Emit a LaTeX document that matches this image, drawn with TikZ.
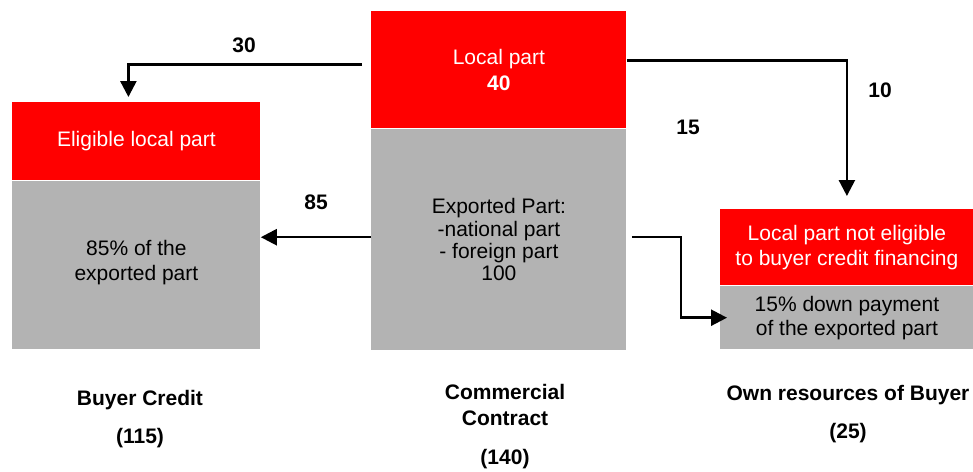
\documentclass[tikz,border=0pt]{standalone}
\usepackage{fontspec}
\setmainfont{Liberation Sans}
\usetikzlibrary{arrows.meta, positioning}
\definecolor{boxred}{RGB}{255,0,0}
\definecolor{boxgray}{RGB}{179,179,179}

\begin{document}
\begin{tikzpicture}[
    x=0.5pt, y=-0.5pt,
    font=\fontsize{10.5pt}{12.5pt}\selectfont,
    localpart/.style={rectangle, inner sep=0pt, align=center, text=white,
                      fill=boxred, anchor=north west},
    exportpart/.style={rectangle, inner sep=0pt, align=center, text=black,
                       fill=boxgray},
    amount/.style={font=\fontsize{10.5pt}{12.5pt}\selectfont\bfseries},
    caption/.style={align=center, font=\fontsize{10.5pt}{13pt}\selectfont\bfseries},
    arrow/.style={line width=1.25pt, -{Triangle[length=8pt, width=8pt]}}
]
\useasboundingbox (0,0) rectangle (973,471);

% buyer credit
\node (btop) [localpart, minimum width=124pt, minimum height=39pt] at (12,102) {Eligible local part};
\node (bbot) [exportpart, minimum width=124pt, minimum height=84pt, below=0pt of btop] {85\% of the\\exported part\\[-7.5pt]};

% commercial contract
\node (ctop) [localpart, minimum width=127.5pt, minimum height=58.5pt] at (371,11) {Local part\\[0.5pt]\textbf{40}};
\node (cbot) [exportpart, minimum width=127.5pt, minimum height=110.5pt, below=0pt of ctop,
              font=\fontsize{10.5pt}{11.2pt}\selectfont] {Exported Part:\\-national part\\- foreign part\\100};

% own resources
\node (rtop) [localpart, minimum width=126.5pt, minimum height=38pt] at (720,209) {Local part not eligible\\to buyer credit financing};
\node (rbot) [exportpart, minimum width=126.5pt, minimum height=31.5pt, below=0pt of rtop,
              font=\fontsize{10.5pt}{12pt}\selectfont] {15\% down payment\\of the exported part};

% amounts
\node (n30) [amount] at (244,45) {30};
\node (n10) [amount] at (880,90) {10};
\node (n15) [amount] at (688,127) {15};
\node (n85) [amount] at (316,202) {85};

% captions
\node (buyer) [caption] at (140,419) {Buyer Credit\\[6pt](115)};
\node (contract) [caption] at (505,427) {Commercial\\Contract\\[6.5pt](140)};
\node (own) [caption] at (848,414) {Own resources of Buyer\\[6pt](25)};

\draw [arrow, shorten >=2.5pt] ([xshift=-4.5pt, yshift=2.75pt]ctop.west) -| ([xshift=-4pt]btop.north);
\draw [arrow, shorten >=6.5pt] ([yshift=4.75pt]ctop.east) -| (rtop.north);
\draw [arrow] ([yshift=1.25pt]cbot.west) -- ([yshift=1.25pt]cbot.west -| bbot.east);
\draw [arrow, shorten >=-3.5pt] ([xshift=2.5pt, yshift=1.25pt]cbot.east) -- ++(49,0) |- (rbot.west);

\end{tikzpicture}
\end{document}
